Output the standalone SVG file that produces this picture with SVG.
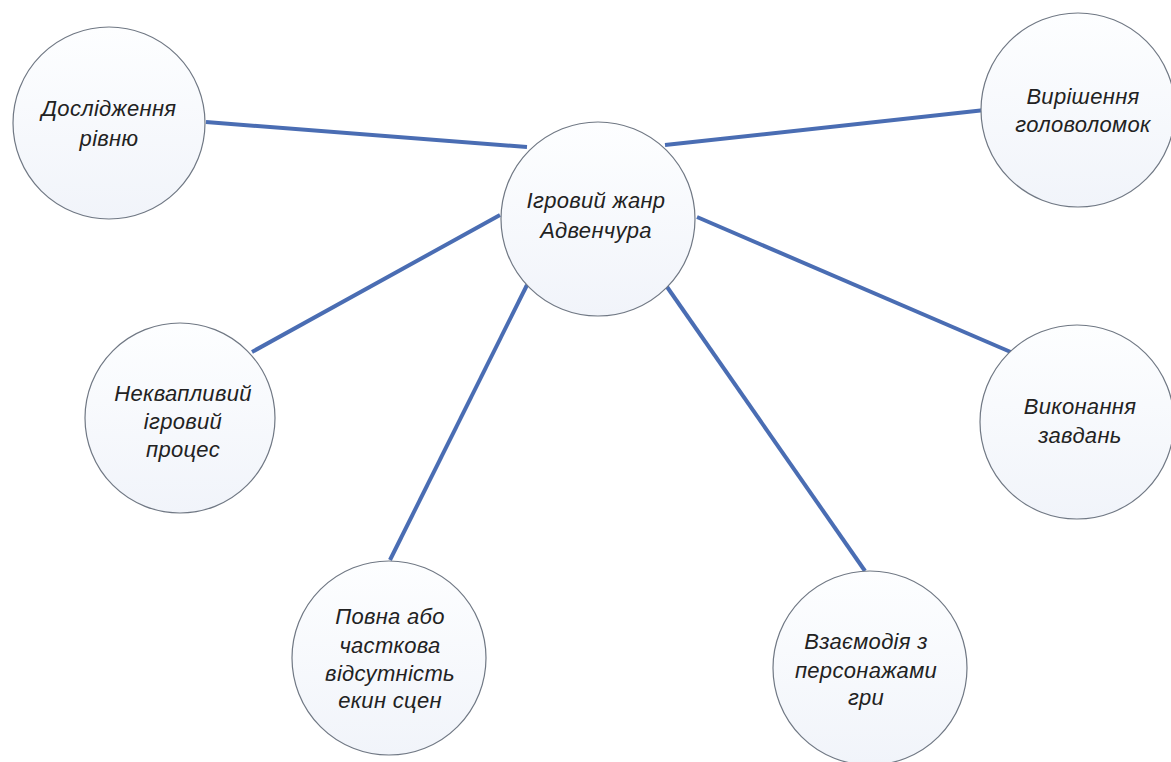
<svg xmlns="http://www.w3.org/2000/svg" width="1171" height="762" viewBox="0 0 1171 762">
  <defs>
    <linearGradient id="bubbleFill" x1="0" y1="0" x2="0" y2="1">
      <stop offset="0" stop-color="#fdfeff"/>
      <stop offset="1" stop-color="#f1f4fa"/>
    </linearGradient>
  </defs>
  <style>
    .bubble { fill: url(#bubbleFill); stroke: #707884; stroke-width: 1.2; }
    .link { stroke: #4a6db3; stroke-width: 4; stroke-linecap: butt; fill: none; }
    .label { font-family: "Liberation Sans", Arial, sans-serif; font-style: italic; font-size: 22px; letter-spacing: 0.3px; fill: #222222; text-anchor: middle; }
  </style>
  <rect width="1171" height="762" fill="#ffffff"/>

  <!-- spokes from the central genre node -->
  <g id="connectors">
    <line class="link" x1="206" y1="122" x2="527" y2="147"/>
    <line class="link" x1="665" y1="145" x2="985" y2="110"/>
    <line class="link" x1="252" y1="352" x2="500" y2="215"/>
    <line class="link" x1="390" y1="560" x2="527" y2="285"/>
    <line class="link" x1="865" y1="571" x2="665" y2="284"/>
    <line class="link" x1="697" y1="217" x2="1013" y2="353"/>
  </g>

  <g id="node-center">
    <circle class="bubble" cx="598" cy="219" r="97"/>
    <text class="label" x="596" y="208">Ігровий жанр</text>
    <text class="label" x="596" y="238">Адвенчура</text>
  </g>

  <g id="node-exploration">
    <circle class="bubble" cx="109" cy="123" r="96"/>
    <text class="label" x="109" y="116">Дослідження</text>
    <text class="label" x="109" y="146">рівню</text>
  </g>

  <g id="node-puzzles">
    <circle class="bubble" cx="1078" cy="110" r="97"/>
    <text class="label" x="1083" y="104">Вирішення</text>
    <text class="label" x="1083" y="132">головоломок</text>
  </g>

  <g id="node-pace">
    <circle class="bubble" cx="180" cy="418" r="95"/>
    <text class="label" x="183" y="401">Неквапливий</text>
    <text class="label" x="183" y="429">ігровий</text>
    <text class="label" x="183" y="457">процес</text>
  </g>

  <g id="node-quests">
    <circle class="bubble" cx="1077" cy="422" r="97"/>
    <text class="label" x="1080" y="414">Виконання</text>
    <text class="label" x="1080" y="443">завдань</text>
  </g>

  <g id="node-cutscenes">
    <circle class="bubble" cx="389" cy="658" r="97"/>
    <text class="label" x="390" y="624">Повна або</text>
    <text class="label" x="390" y="653">часткова</text>
    <text class="label" x="390" y="681">відсутність</text>
    <text class="label" x="390" y="708">екин сцен</text>
  </g>

  <g id="node-characters">
    <circle class="bubble" cx="870" cy="668" r="97"/>
    <text class="label" x="866" y="649">Взаємодія з</text>
    <text class="label" x="866" y="678">персонажами</text>
    <text class="label" x="866" y="705">гри</text>
  </g>
</svg>
